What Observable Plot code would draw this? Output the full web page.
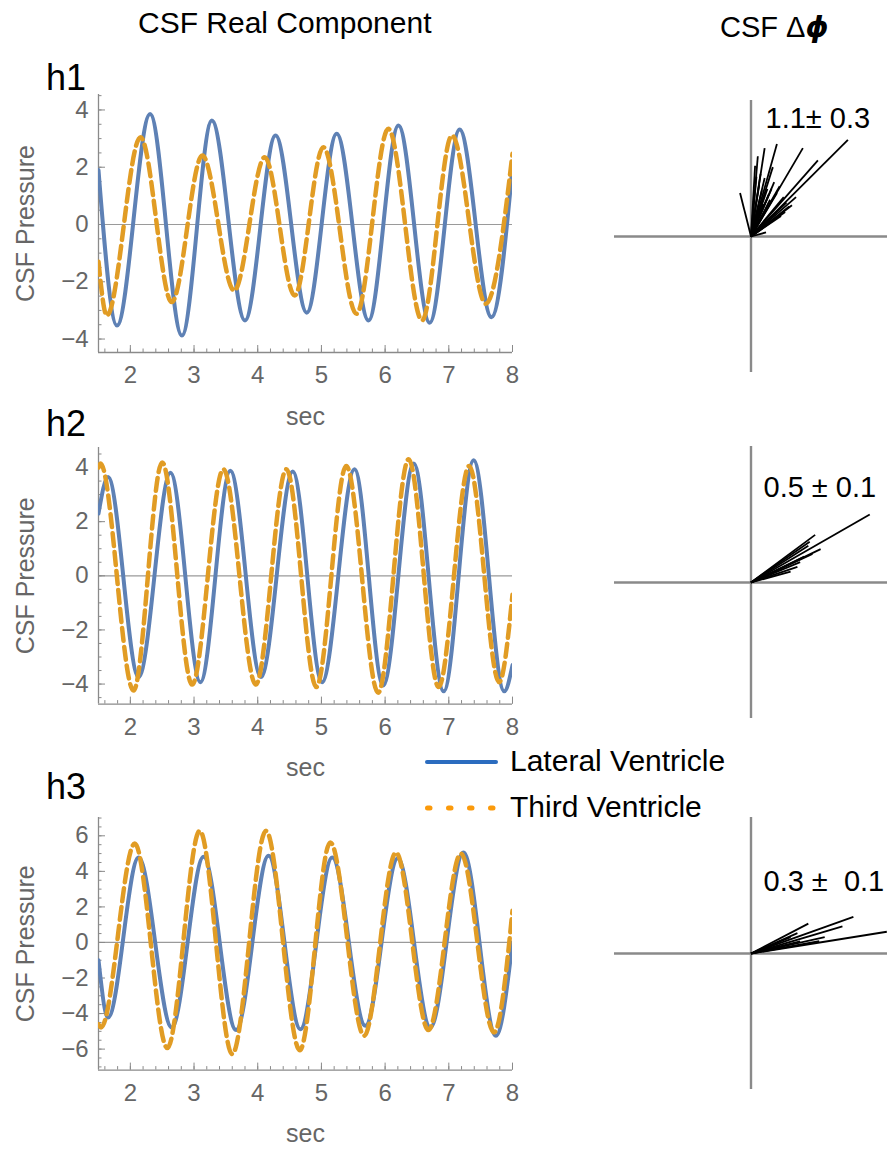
<!DOCTYPE html>
<html><head><meta charset="utf-8">
<script src="https://cdn.jsdelivr.net/npm/d3@7"></script>
<script src="https://cdn.jsdelivr.net/npm/@observablehq/plot@0.6"></script>
<style>
body{margin:0;background:#fff;}
#root{position:relative;width:895px;height:1151px;overflow:hidden;background:#fff;font-family:"Liberation Sans",Arial,Helvetica,sans-serif;}
.abs{position:absolute;}
.abs svg{overflow:visible;}
.txt{position:absolute;white-space:pre;line-height:1;color:#000;}
</style></head><body><div id="root"></div>
<script>
// ---------- data ----------
// time (sec) of extrema / end points and CSF pressure values
const h1LateralT = [1.5, 1.79, 2.31, 2.81, 3.28, 3.80, 4.28, 4.77, 5.24, 5.74, 6.21, 6.70, 7.17, 7.67, 8.0];
const h1LateralV = [1.9, -3.53, 3.86, -3.88, 3.63, -3.35, 3.11, -3.08, 3.17, -3.35, 3.46, -3.43, 3.32, -3.24, 2.0];
const h1ThirdT   = [1.5, 1.63, 2.16, 2.65, 3.13, 3.63, 4.11, 4.58, 5.03, 5.55, 6.05, 6.58, 7.05, 7.58, 8.0];
const h1ThirdV   = [-1.3, -3.18, 3.05, -2.71, 2.41, -2.31, 2.35, -2.48, 2.70, -3.12, 3.34, -3.35, 3.11, -2.77, 2.47];

const h2LateralT = [1.5, 1.65, 2.13, 2.63, 3.10, 3.57, 4.05, 4.55, 5.01, 5.52, 5.97, 6.45, 6.92, 7.39, 7.87, 8.0];
const h2LateralV = [2.3, 3.65, -3.74, 3.81, -3.93, 3.88, -3.74, 3.85, -3.93, 3.94, -4.05, 4.15, -4.27, 4.27, -4.27, -3.3];
const h2ThirdT   = [1.5, 1.53, 2.05, 2.50, 2.97, 3.46, 3.97, 4.45, 4.92, 5.39, 5.89, 6.37, 6.84, 7.32, 7.79, 8.0];
const h2ThirdV   = [4.0, 4.15, -4.24, 4.19, -4.02, 3.94, -4.02, 3.94, -4.11, 4.06, -4.32, 4.31, -4.11, 4.06, -3.93, -0.7];

const h3LateralT = [1.5, 1.65, 2.13, 2.65, 3.15, 3.66, 4.17, 4.67, 5.17, 5.69, 6.20, 6.71, 7.23, 7.74, 8.0];
const h3LateralV = [-1.0, -4.22, 4.78, -4.78, 4.82, -4.93, 4.88, -4.88, 4.78, -4.69, 4.74, -4.78, 5.06, -5.25, 0.0];
const h3ThirdT   = [1.5, 1.54, 2.07, 2.58, 3.09, 3.60, 4.13, 4.66, 5.14, 5.67, 6.17, 6.68, 7.19, 7.71, 8.0];
const h3ThirdV   = [-4.6, -4.78, 5.57, -5.94, 6.28, -6.28, 6.28, -6.06, 5.63, -5.25, 5.06, -4.93, 5.00, -5.06, 1.78];

// phase vectors (end points, axis half-length = 1)
const h1PhaseX = [0.71, 0.49, 0.38, 0.19, 0.10, 0.05, 0.16, 0.33, 0.30, -0.08, 0.11, 0.08, 0.12, 0.15, 0.19, 0.24, 0.26, 0.28, 0.25, 0.22, 0.13, 0.04, 0.07, 0.10, 0.17, 0.21, 0.06, 0.03, 0.14, 0.09];
const h1PhaseY = [0.71, 0.56, 0.65, 0.68, 0.65, 0.59, 0.51, 0.29, 0.23, 0.32, 0.03, 0.34, 0.35, 0.35, 0.32, 0.29, 0.25, 0.22, 0.18, 0.15, 0.31, 0.44, 0.46, 0.43, 0.40, 0.37, 0.38, 0.52, 0.27, 0.24];
const h2PhaseX = [0.87, 0.47, 0.42, 0.51, 0.43, 0.36, 0.29, 0.34, 0.45, 0.39];
const h2PhaseY = [0.50, 0.35, 0.27, 0.245, 0.30, 0.15, 0.08, 0.115, 0.21, 0.19];
const h3PhaseX = [0.995, 0.75, 0.67, 0.42, 0.54, 0.34, 0.50, 0.36, 0.29];
const h3PhaseY = [0.16, 0.27, 0.20, 0.22, 0.12, 0.15, 0.09, 0.09, 0.12];

const phaseLabels = ["1.1\u00B1 0.3", "0.5 \u00B1 0.1", "0.3 \u00B1  0.1"];
const panelNames = ["h1", "h2", "h3"];
const seriesNames = ["Lateral Ventricle", "Third Ventricle"];
const xMajor = [2, 3, 4, 5, 6, 7, 8];
const yMajorSmall = [-4, -2, 0, 2, 4];
const yMajorLarge = [-6, -4, -2, 0, 2, 4, 6];

// ---------- styling ----------
const FONT = "'Liberation Sans', Arial, Helvetica, sans-serif";
const BLUE = "#5e81b5", ORANGE = "#e19c24";
const TXT = "#666666", AX = "#8a8a8a";
const root = document.getElementById("root");
const fmt = d3.format("d");

function toRows(T, V) { return T.map((t, i) => ({t, v: V[i]})); }
const xMinor = d3.range(16, 81, 2).map(d => d / 10);

function timePlot(lat, third, yDomain, yTicks, marginTop, frameH) {
  const W = 530, ML = 98, MR = 18, MB = 80, frameW = W - ML - MR;
  const yMinor = d3.range(Math.ceil(yDomain[0] * 2), Math.floor(yDomain[1] * 2) + 1).map(d => d / 2);
  return Plot.plot({
    width: W, height: marginTop + frameH + MB,
    marginLeft: ML, marginRight: MR, marginTop, marginBottom: MB,
    x: {domain: [1.5, 8], axis: null}, y: {domain: yDomain, axis: null},
    style: {fontFamily: FONT, background: "transparent", overflow: "visible"},
    marks: [
      Plot.ruleY([0], {stroke: "#9a9a9a", strokeWidth: 1.2}),
      Plot.ruleX(xMinor, {stroke: AX, strokeWidth: 1, insetTop: frameH - 3.5}),
      Plot.ruleX(xMajor, {stroke: AX, strokeWidth: 1, insetTop: frameH - 7}),
      Plot.ruleY(yMinor, {stroke: AX, strokeWidth: 1, insetRight: frameW - 3.5}),
      Plot.ruleY(yTicks, {stroke: AX, strokeWidth: 1, insetRight: frameW - 7}),
      Plot.ruleX([1.5], {stroke: AX, strokeWidth: 1.3}),
      Plot.ruleY([yDomain[0]], {stroke: AX, strokeWidth: 1.3}),
      Plot.text(xMajor, {x: d => d, text: fmt, frameAnchor: "bottom", lineAnchor: "middle", textAnchor: "middle", dy: 23, fontSize: 24, fill: TXT}),
      Plot.text(yTicks, {y: d => d, text: fmt, frameAnchor: "left", lineAnchor: "middle", textAnchor: "end", dx: -10, fontSize: 24, fill: TXT}),
      Plot.line(lat, {x: "t", y: "v", stroke: BLUE, strokeWidth: 4, curve: "monotone-x", clip: true}),
      Plot.line(third, {x: "t", y: "v", stroke: ORANGE, strokeWidth: 4.5, strokeDasharray: "13,6", curve: "monotone-x", clip: true}),
      Plot.text(["CSF Pressure"], {text: d => d, frameAnchor: "left", textAnchor: "middle", dx: -73, rotate: -90, fontSize: 25, fill: TXT}),
      Plot.text(["sec"], {text: d => d, frameAnchor: "bottom", textAnchor: "middle", dy: 72, fontSize: 25, fill: TXT})
    ]
  });
}

function phasePlot(VX, VY, label, ldx, ldy) {
  const vecs = VX.map((x, i) => ({x, y: VY[i]}));
  return Plot.plot({
    width: 295, height: 292,
    marginLeft: 14, marginRight: 8, marginTop: 10, marginBottom: 10,
    x: {domain: [-1, 1], axis: null}, y: {domain: [-1, 1], axis: null},
    style: {fontFamily: FONT, background: "transparent", overflow: "visible"},
    marks: [
      Plot.ruleX([0], {stroke: AX, strokeWidth: 2.4}),
      Plot.ruleY([0], {stroke: AX, strokeWidth: 2.4}),
      Plot.link(vecs, {x1: () => 0, y1: () => 0, x2: "x", y2: "y", stroke: "#000", strokeWidth: 1.8}),
      Plot.text([label], {text: d => d, frameAnchor: "top-left", dx: ldx, dy: ldy, textAnchor: "start", fontSize: 29, fill: "#000"})
    ]
  });
}

function place(node, left, top, width) {
  const d = document.createElement("div");
  d.className = "abs";
  d.style.left = left + "px"; d.style.top = top + "px"; d.style.width = width + "px";
  d.appendChild(node);
  root.appendChild(d);
}
function text(str, left, baseline, size, extra) {
  const d = document.createElement("div");
  d.className = "txt";
  d.style.left = left + "px";
  d.style.top = (baseline - 0.8465 * size) + "px";
  d.style.fontSize = size + "px";
  if (extra) Object.assign(d.style, extra);
  d.innerHTML = str;
  root.appendChild(d);
  return d;
}

// left column
place(timePlot(toRows(h1LateralT, h1LateralV), toRows(h1ThirdT, h1ThirdV), [-4.47, 4.54], yMajorSmall, 34, 258), 0, 60, 530);
place(timePlot(toRows(h2LateralT, h2LateralV), toRows(h2ThirdT, h2ThirdV), [-4.74, 4.74], yMajorSmall, 35, 256.6), 0, 411.7, 530);
place(timePlot(toRows(h3LateralT, h3LateralV), toRows(h3ThirdT, h3ThirdV), [-7.18, 7.03], yMajorLarge, 35, 252.6), 0, 781.7, 530);

// right column
place(phasePlot(h1PhaseX, h1PhaseY, phaseLabels[0], 151, 7), 600, 90, 295);
place(phasePlot(h2PhaseX, h2PhaseY, phaseLabels[1], 149, 30), 600, 436, 295);
place(phasePlot(h3PhaseX, h3PhaseY, phaseLabels[2], 149, 53), 600, 807, 295);

// titles and panel names
text("CSF Real Component", 138, 33, 30);
text("CSF \u0394<span style=\"font-family:'DejaVu Sans';font-weight:bold;font-style:italic\">\u03D5</span>", 720, 38, 29);
text(panelNames[0], 46, 90, 36);
text(panelNames[1], 46, 436.7, 36);
text(panelNames[2], 46, 799, 36);

// legend
const legendColors = ["#2b6cbf", "#fb9a0b"];
const ns = "http://www.w3.org/2000/svg";
[[761.7, 771.7], [808.3, 817]].forEach(([ly, base], i) => {
  const s = document.createElementNS(ns, "svg");
  s.setAttribute("width", 90); s.setAttribute("height", 20);
  s.style.position = "absolute"; s.style.left = "418px"; s.style.top = (ly - 10) + "px";
  const l = document.createElementNS(ns, "line");
  l.setAttribute("x1", i ? 9.5 : 9); l.setAttribute("x2", i ? 80 : 78);
  l.setAttribute("y1", 10); l.setAttribute("y2", 10);
  l.setAttribute("stroke", legendColors[i]);
  l.setAttribute("stroke-width", i ? 5 : 4);
  l.setAttribute("stroke-linecap", "round");
  if (i) l.setAttribute("stroke-dasharray", "2.5,18.5");
  s.appendChild(l);
  root.appendChild(s);
  text(seriesNames[i], 510, base, 30);
});
</script></body></html>
